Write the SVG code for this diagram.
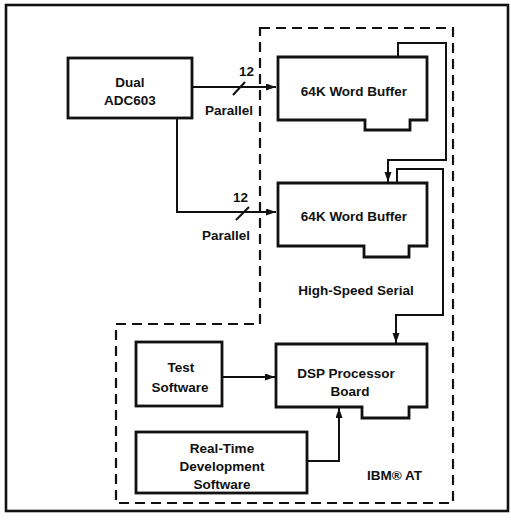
<svg xmlns="http://www.w3.org/2000/svg" width="511" height="524" viewBox="0 0 511 524">
<style>
.box{fill:none;stroke:#111;stroke-width:2.8;stroke-linejoin:miter}
.conn{fill:none;stroke:#111;stroke-width:2}
.dash{fill:none;stroke:#111;stroke-width:2.2;stroke-dasharray:10,6}
.t{font-family:"Liberation Sans",Arial,sans-serif;font-weight:bold;font-size:13.5px;fill:#111;text-anchor:middle}
.l{font-family:"Liberation Sans",Arial,sans-serif;font-weight:bold;font-size:13.5px;fill:#111}
</style>
<defs>
<marker id="ah" markerUnits="userSpaceOnUse" markerWidth="11" markerHeight="8" refX="10" refY="3.5" orient="auto">
<path d="M0,0 L10,3.5 L0,7 Z" fill="#111"/>
</marker>
</defs>
<rect x="0" y="0" width="511" height="524" fill="#fff"/>
<rect x="6" y="5" width="502" height="506" fill="none" stroke="#111" stroke-width="2.6"/>
<g id="ibm-at">
<path class="dash" d="M260,28 H453 V503 H116 V324 H260 Z"/>
<text class="l" x="367" y="480">IBM® AT</text>
</g>
<g id="connectors">
<path class="conn" d="M192,87 H276" marker-end="url(#ah)"/>
<path class="conn" d="M233,95 L245,82"/>
<path class="conn" d="M177,118 V212 H276" marker-end="url(#ah)"/>
<path class="conn" d="M236,220 L249,207"/>
<path class="conn" d="M398,57 V43 H446 V160 H388 V182" marker-end="url(#ah)"/>
<path class="conn" d="M397,183 V169 H443 V315 H396 V343" marker-end="url(#ah)"/>
<path class="conn" d="M222,377 H275" marker-end="url(#ah)"/>
<path class="conn" d="M307,461 H339 V408" marker-end="url(#ah)"/>
<text class="l" x="239" y="76">12</text>
<text class="l" x="205" y="115">Parallel</text>
<text class="l" x="233" y="202">12</text>
<text class="l" x="202" y="240">Parallel</text>
<text class="t" x="356" y="295">High-Speed Serial</text>
</g>
<g id="adc">
<rect class="box" x="68" y="58" width="124" height="60"/>
<text class="t" x="130" y="87">Dual</text>
<text class="t" x="130" y="105">ADC603</text>
</g>
<g id="buffer1">
<path class="box" d="M278,57 H427 V120 H410 V130 H365 V120 H278 Z"/>
<text class="t" x="354" y="96">64K Word Buffer</text>
</g>
<g id="buffer2">
<path class="box" d="M278,183 H427 V246 H409 V257 H364 V246 H278 Z"/>
<text class="t" x="354" y="221">64K Word Buffer</text>
</g>
<g id="dsp">
<path class="box" d="M276,344 H427 V407 H409 V418 H362 V407 H276 Z"/>
<text class="t" x="346" y="378">DSP Processor</text>
<text class="t" x="350" y="396">Board</text>
</g>
<g id="test">
<rect class="box" x="136" y="342" width="86" height="64"/>
<text class="t" x="181" y="372">Test</text>
<text class="t" x="180" y="392">Software</text>
</g>
<g id="realtime">
<rect class="box" x="136" y="432" width="171" height="61"/>
<text class="t" x="222" y="453">Real-Time</text>
<text class="t" x="222" y="471">Development</text>
<text class="t" x="222" y="489">Software</text>
</g>
</svg>
